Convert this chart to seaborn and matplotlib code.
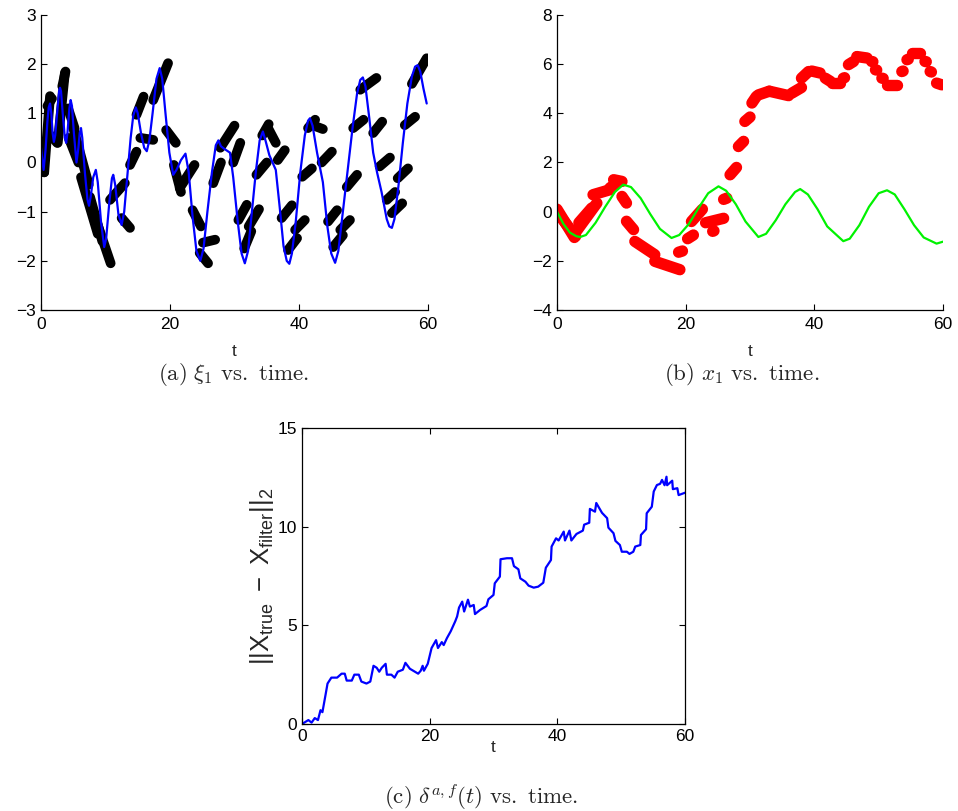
import numpy as np
import pandas as pd
import matplotlib
matplotlib.use("Agg")
import matplotlib.pyplot as plt
import seaborn as sns

# ---------------- data: panel (a) xi_1 vs time ----------------
xi_t = [0, 0.2, 0.4, 0.7, 1.0, 1.2, 1.4, 1.6, 1.8, 2.0, 2.2, 2.5, 2.8, 2.95, 3.1, 3.4, 3.7, 3.9,
        4.1, 4.4, 4.6, 4.8, 5.1, 5.5, 5.8, 6.0, 6.2, 6.4, 6.8, 7.2, 7.45, 7.7, 8.1, 8.5, 8.8,
        9.3, 9.8, 10.1, 10.6, 11.0, 11.2, 11.5, 12.0, 12.5, 12.9, 13.4, 13.9, 14.3, 14.7, 15.0,
        15.5, 16.0, 16.4, 16.8, 17.3, 17.9, 18.4, 18.8, 19.3, 19.9, 20.5, 21.0, 21.7, 22.4,
        22.9, 23.5, 24.1, 24.7, 25.2, 25.8, 26.5, 27.1, 27.5, 27.9, 28.5, 29.3, 29.8, 30.5,
        31.1, 31.6, 32.1, 32.7, 33.3, 33.9, 34.4, 34.8, 35.4, 36.4, 37.0, 37.6, 38.1, 38.5,
        38.9, 39.5, 40.2, 40.9, 41.4, 41.7, 42.1, 42.8, 43.7, 44.4, 45.0, 45.6, 46.1, 46.8,
        47.6, 48.3, 49.0, 49.5, 49.9, 50.3, 50.9, 51.5, 52.1, 52.8, 53.6, 54.0, 54.4, 54.8,
        55.4, 56.1, 56.8, 57.5, 58.0, 58.4, 58.8, 59.3, 59.8]
xi_true = [0.30, 0.05, -0.15, 0.25, 0.85, 1.12, 1.20, 1.0, 0.6, 0.42, 0.55, 1.0, 1.45, 1.52,
           1.45, 0.95, 0.5, 0.40, 0.6, 1.1, 1.27, 1.15, 0.6, 0.0, 0.3, 0.6, 0.70, 0.5, -0.2,
           -0.75, -0.88, -0.7, -0.3, -0.15, -0.4, -1.2, -1.72, -1.55, -0.8, -0.32, -0.25,
           -0.45, -1.05, -1.27, -1.0, -0.25, 0.5, 0.95, 1.12, 1.0, 0.6, 0.3, 0.23, 0.45, 1.0,
           1.7, 1.92, 1.7, 1.0, 0.2, -0.25, -0.15, 0.05, 0.18, -0.2, -1.1, -1.8, -2.0, -1.75,
           -1.0, -0.2, 0.35, 0.45, 0.33, 0.27, 0.20, -0.3, -1.2, -1.85, -2.05, -1.8, -1.0,
           -0.2, 0.45, 0.63, 0.45, 0.15, -0.15, -0.9, -1.7, -2.0, -2.06, -1.85, -1.2, -0.2,
           0.55, 0.85, 0.9, 0.75, 0.2, -0.4, -1.3, -1.85, -2.04, -1.8, -1.0, -0.1, 0.7, 1.4,
           1.68, 1.73, 1.55, 0.9, 0.2, -0.2, -0.6, -1.15, -1.3, -1.33, -1.15, -0.5, 0.4, 1.2,
           1.75, 1.95, 1.98, 1.85, 1.5, 1.2]

# black estimate tracks: start/end of each short run of dots
xi_est_t0 = [0.0, 0.5, 1.0, 1.5, 2.6, 3.3, 4.2, 4.3, 4.9, 6.2, 7.6, 8.6, 10.7, 12.5,
             13.8, 14.8, 15.4, 17.4, 19.4, 20.6, 21.5, 23.5, 24.6, 25.1, 26.7, 27.8, 29.8,
             30.6, 31.5, 32.2, 33.4, 34.3, 35.2, 36.7, 37.3, 38.3, 39.4, 40.5, 41.4, 42.3,
             43.5, 44.5, 45.3, 46.4, 47.4, 48.4, 49.5, 51.5, 52.5, 53.6, 54.4, 55.3, 56.4, 57.5]
xi_est_y0 = [0.30, -0.20, 1.15, 0.55, 0.40, 1.55, 1.10, 0.50, 0.75, -0.30, -0.70, -1.20,
             -0.76, -1.13, -0.05, 0.97, 0.50, 1.27, 0.66, -0.05, -0.52, -0.97, -1.84, -1.63,
             -0.42, 0.30, 0.00, -1.17, -1.75, -1.30, -0.25, 0.55, 0.70, 0.05, -1.13, -1.78,
             -1.37, -0.29, 0.70, 0.75, 0.00, -1.20, -1.72, -1.37, -0.50, 0.70, 1.48, 0.60,
             -0.08, -0.76, -1.03, -0.32, 0.76, 1.60]
xi_est_t1 = [0.5, 1.4, 1.7, 2.5, 3.7, 3.8, 5.2, 5.8, 7.4, 8.8, 9.5, 10.8, 13.0, 13.8,
             14.8, 15.9, 17.4, 19.7, 20.9, 21.7, 23.8, 24.8, 25.9, 27.0, 27.9, 30.0, 30.9,
             31.9, 32.6, 33.8, 35.0, 35.3, 36.4, 37.8, 38.9, 39.7, 40.9, 42.0, 42.5, 43.7,
             45.1, 45.9, 46.8, 47.9, 49.0, 50.0, 52.0, 52.9, 54.1, 54.9, 56.0, 56.9, 58.0, 59.8]
xi_est_y1 = [-0.20, 1.35, 1.30, 0.40, 1.82, 1.85, 0.70, 0.00, -0.45, -1.45, -1.60, -2.05,
             -0.42, -1.33, 0.22, 1.34, 0.46, 2.02, 0.40, -0.60, -0.05, -1.30, -2.05, -1.57,
             0.00, 0.75, 0.40, -0.86, -1.40, -0.95, 0.00, 0.78, 0.40, 0.25, -0.87, -1.54,
             -1.17, -0.12, 0.87, 0.68, 0.22, -0.97, -1.48, -1.17, -0.25, 0.87, 1.72, 0.83,
             0.10, -0.60, -0.83, -0.12, 0.93, 2.12]

# ---------------- data: panel (b) x_1 vs time ----------------
x1_t = [0, 1, 2, 3, 3.6, 4.5, 6, 7.5, 9, 10.3, 11.5, 13, 14.5, 16, 17.8, 19, 20.5, 22, 23.5,
        25.1, 26.3, 27.8, 29.3, 31.3, 32.5, 34, 35.5, 37, 37.8, 39, 40.5, 42, 44.5, 45.5, 47,
        48.5, 50, 51.3, 52.5, 54, 55.5, 57, 59, 60]
x1_true = [0, -0.5, -0.85, -1.0, -1.03, -0.95, -0.45, 0.2, 0.8, 1.1, 1.0, 0.55, -0.1, -0.7,
           -1.07, -0.95, -0.5, 0.15, 0.75, 1.03, 0.85, 0.3, -0.4, -1.03, -0.9, -0.35, 0.3,
           0.8, 0.92, 0.7, 0.1, -0.6, -1.2, -1.1, -0.55, 0.2, 0.75, 0.87, 0.7, 0.1, -0.55,
           -1.05, -1.3, -1.22]

x1_est_t0 = [0.0, 0.4, 2.8, 3.4, 5.6, 8.2, 8.8, 10.1, 10.8, 12.1, 15.2, 18.9, 20.3, 20.9,
             23.1, 24.2, 25.9, 26.9, 28.2, 29.2, 30.3, 31.3, 33.0, 36.5, 38.0, 39.6, 41.7,
             42.7, 44.5, 45.3, 46.6, 48.9, 49.5, 50.5, 51.3, 53.6, 54.4, 55.2, 57.2, 58.0, 59.0]
x1_est_y0 = [0.10, -0.15, -0.87, -0.45, 0.69, 0.96, 1.30, 0.62, -0.39, -1.21, -2.02, -1.65,
             -1.10, -0.40, -0.45, -0.80, 0.50, 1.50, 2.65, 3.67, 4.42, 4.75, 4.90, 4.82,
             5.43, 5.72, 5.43, 5.23, 5.43, 5.98, 6.31, 6.11, 5.77, 5.43, 5.16, 5.70, 6.18,
             6.45, 6.11, 5.70, 5.23]
x1_est_t1 = [2.7, 2.9, 6.2, 5.4, 8.2, 9.3, 10.1, 10.8, 11.9, 15.2, 19.1, 19.5, 21.2, 22.6,
             25.9, 24.4, 26.4, 27.9, 29.0, 30.0, 31.0, 33.0, 36.0, 38.0, 39.1, 40.9, 42.5,
             44.0, 44.7, 46.1, 48.2, 49.1, 49.7, 50.7, 52.8, 53.8, 54.6, 56.5, 57.4, 58.2, 59.8]
x1_est_y1 = [-1.05, -1.00, 0.35, 0.15, 0.89, 1.17, 1.23, 0.35, -0.73, -1.75, -2.36, -1.60,
             -0.95, 0.10, -0.27, -0.78, 0.55, 1.80, 2.86, 3.85, 4.69, 4.90, 4.72, 5.05,
             5.70, 5.64, 5.30, 5.23, 5.45, 6.11, 6.25, 6.10, 5.76, 5.42, 5.16, 5.72, 6.20,
             6.45, 6.10, 5.68, 5.16]

# ---------------- data: panel (c) error norm ----------------
err_t = [0, 1.0, 1.5, 2.0, 2.5, 2.9, 3.2, 3.7, 4.0, 4.6, 5.5, 6.2, 6.7, 7.0, 7.8, 8.2, 8.9,
         9.3, 10.1, 10.7, 11.2, 11.7, 12.1, 12.5, 13.1, 13.3, 14.0, 14.5, 15.0, 15.8, 16.2,
         16.9, 18.2, 18.6, 18.9, 19.1, 19.7, 20.3, 21.0, 21.3, 21.9, 22.2, 22.7, 23.3, 24.0,
         24.3, 24.6, 25.1, 25.4, 26.0, 26.3, 26.9, 27.1, 27.9, 28.9, 29.2, 30.0, 30.2, 31.0,
         31.1, 32.1, 32.9, 33.2, 33.9, 34.2, 35.0, 35.5, 36.3, 37.0, 37.8, 38.2, 39.0, 39.1,
         39.8, 40.2, 41.0, 41.2, 41.9, 42.2, 43.0, 44.0, 44.2, 45.0, 45.1, 45.9, 46.1, 47.0,
         47.8, 48.0, 48.8, 49.1, 49.8, 50.1, 50.9, 51.3, 51.9, 52.2, 53.0, 53.1, 53.9, 54.0,
         54.8, 55.1, 55.6, 56.1, 56.4, 56.8, 57.1, 57.2, 58.0, 58.1, 58.8, 59.0, 60.0]
err_val = [0, 0.2, 0.07, 0.3, 0.2, 0.7, 0.6, 1.5, 2.05, 2.35, 2.35, 2.55, 2.55, 2.2, 2.2,
           2.5, 2.5, 2.15, 2.05, 2.15, 2.95, 2.85, 2.65, 2.85, 3.05, 2.5, 2.5, 2.35, 2.65,
           2.75, 3.1, 2.8, 2.55, 2.7, 2.95, 2.7, 3.05, 3.85, 4.25, 3.85, 4.15, 4.0, 4.35,
           4.7, 5.2, 5.45, 5.9, 6.2, 5.7, 6.3, 5.95, 6.03, 5.57, 5.78, 5.98, 6.32, 6.54,
           7.13, 7.47, 8.35, 8.4, 8.4, 8.0, 7.84, 7.38, 7.21, 7.01, 6.91, 6.96, 7.16, 7.92,
           8.31, 8.99, 9.41, 9.3, 9.75, 9.3, 9.8, 9.3, 9.63, 9.8, 10.1, 10.2, 10.9, 10.76,
           11.2, 10.7, 10.43, 9.95, 9.67, 9.28, 9.07, 8.73, 8.73, 8.62, 8.73, 8.99, 9.07,
           9.58, 9.87, 10.68, 11.01, 11.78, 12.11, 12.17, 12.37, 12.1, 12.53, 12.1, 12.33,
           11.9, 11.95, 11.6, 11.72]

x_ticks = [0, 20, 40, 60]
a_yticks = [-3, -2, -1, 0, 1, 2, 3]
b_yticks = [-4, -2, 0, 2, 4, 6, 8]
c_yticks = [0, 5, 10, 15]

# ---------------- style ----------------
sns.set_style("ticks", {"xtick.direction": "in", "ytick.direction": "in"})
plt.rcParams['font.family'] = ['Liberation Sans', 'DejaVu Sans']
plt.rcParams['mathtext.fontset'] = 'custom'
plt.rcParams['mathtext.rm'] = 'Liberation Sans'
plt.rcParams['mathtext.it'] = 'Liberation Sans:italic'
plt.rcParams['axes.linewidth'] = 0.9
plt.rcParams['xtick.major.size'] = 4
plt.rcParams['ytick.major.size'] = 4
plt.rcParams['xtick.major.width'] = 0.8
plt.rcParams['ytick.major.width'] = 0.8
FS = 12.5


def tracks(t0, y0, t1, y1):
    rows = []
    for i, (a, b, c, d) in enumerate(zip(t0, y0, t1, y1)):
        rows.append({"sid": i, "t": a, "v": b})
        rows.append({"sid": i, "t": c, "v": d})
    return pd.DataFrame(rows)


fig = plt.figure(figsize=(9.58, 8.11), dpi=100)
W, H = 958.0, 811.0


def axes_px(l, t, r, b):
    return fig.add_axes([l / W, 1 - b / H, (r - l) / W, (b - t) / H])


# ---- panel (a)
axa = axes_px(41, 15, 428, 310)
sns.lineplot(data=tracks(xi_est_t0, xi_est_y0, xi_est_t1, xi_est_y1), x="t", y="v",
             units="sid", estimator=None, sort=False, color="black", lw=7.0,
             solid_capstyle="round", ax=axa, legend=False)
sns.lineplot(x=xi_t, y=xi_true, sort=False, estimator=None, color=(0, 0, 1), lw=1.6, ax=axa)
axa.set_xlim(0, 60)
axa.set_ylim(-3, 3)
axa.set_xticks(x_ticks)
axa.set_yticks(a_yticks)
axa.set_xlabel("t", fontsize=FS, labelpad=9)
axa.set_ylabel("")
sns.despine(ax=axa)

# ---- panel (b)
axb = axes_px(557, 15, 943, 310)
sns.lineplot(data=tracks(x1_est_t0, x1_est_y0, x1_est_t1, x1_est_y1), x="t", y="v",
             units="sid", estimator=None, sort=False, color=(1, 0, 0), lw=8.2,
             solid_capstyle="round", ax=axb, legend=False)
sns.lineplot(x=x1_t, y=x1_true, sort=False, estimator=None, color=(0, 0.95, 0), lw=1.6, ax=axb)
axb.set_xlim(0, 60)
axb.set_ylim(-4, 8)
axb.set_xticks(x_ticks)
axb.set_yticks(b_yticks)
axb.set_xlabel("t", fontsize=FS, labelpad=9)
axb.set_ylabel("")
sns.despine(ax=axb)

# ---- panel (c)
axc = axes_px(302, 428, 685, 724)
sns.lineplot(x=err_t, y=err_val, sort=False, estimator=None, color=(0, 0, 1), lw=1.6, ax=axc)
axc.set_xlim(0, 60)
axc.set_ylim(0, 15)
axc.set_xticks(x_ticks)
axc.set_yticks(c_yticks)
axc.tick_params(top=True, right=True, direction="in")
axc.set_xlabel("t", fontsize=FS, labelpad=-3)
axc.set_ylabel(r"$\mathregular{||X_{true}\ -\ X_{filter}||_2}$", fontsize=18.5, labelpad=1)

for ax in (axa, axb):
    ax.tick_params(axis="x", pad=5)
for ax in (axa, axb, axc):
    ax.tick_params(labelsize=FS, colors="black")
    for s in ax.spines.values():
        s.set_color("black")

# ---- captions
cap_kw = dict(ha="center", va="center", fontsize=16.5, math_fontfamily="cm")
fig.text(234 / W, 1 - 375 / H, r"$\mathrm{(a)}\ \xi_1\ \mathrm{vs.\ time.}$", **cap_kw)
fig.text(742 / W, 1 - 375 / H, r"$\mathrm{(b)}\ x_1\ \mathrm{vs.\ time.}$", **cap_kw)
fig.text(481 / W, 1 - 797 / H, r"$\mathrm{(c)}\ \delta^{a,f}(t)\ \mathrm{vs.\ time.}$", **cap_kw)

fig.savefig("out.png", dpi=100)
